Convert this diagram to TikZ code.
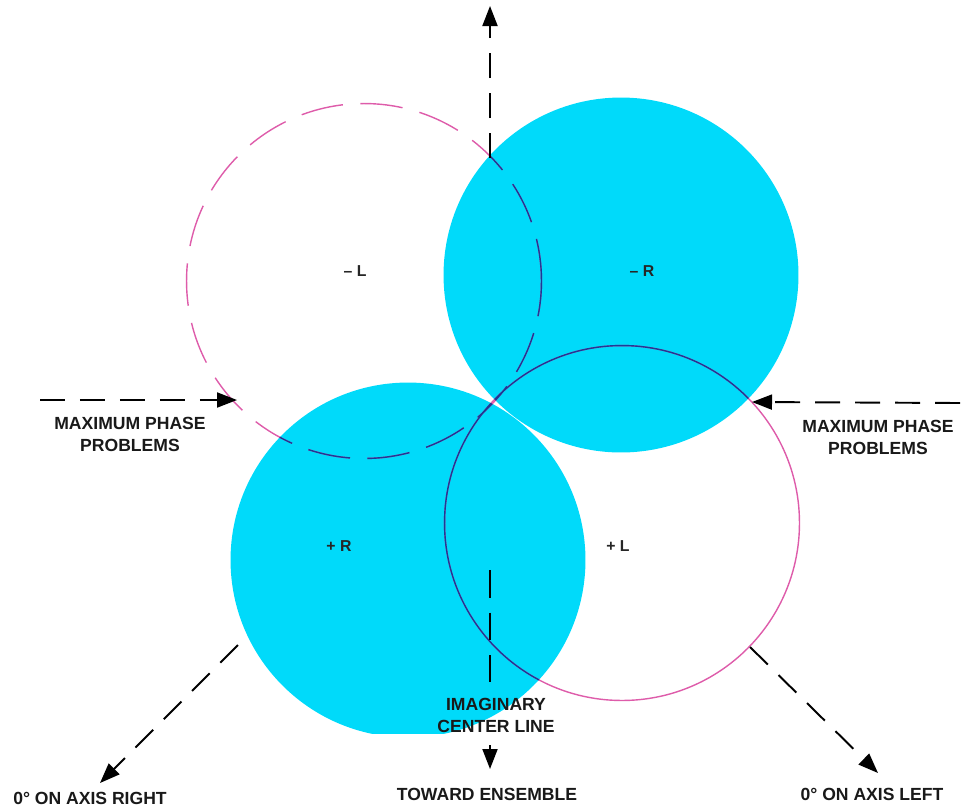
\documentclass[tikz,border=0pt]{standalone}
\usepackage{fontspec}
\setmainfont{Liberation Sans}
\usetikzlibrary{arrows.meta}

\definecolor{lobecyan}{RGB}{0,218,250}
\definecolor{lobepink}{RGB}{222,92,170}
\definecolor{lobenavy}{RGB}{28,58,150}

\begin{document}
\begin{tikzpicture}[
  x=0.02cm, y=-0.02cm,
  caption/.style={align=center, font=\fontsize{10}{12.5}\selectfont\bfseries, text=black!90},
  lobelabel/.style={font=\fontsize{9}{10}\selectfont\bfseries, text=black!85},
  axis/.style={draw, line width=1.1pt, dash pattern=on 0.5cm off 0.3cm, -{Triangle[length=0.4cm,width=0.3cm]}},
  centerline/.style={draw, line width=1.1pt, dash pattern=on 0.55cm off 0.3cm},
  >=Stealth
]
  \useasboundingbox (0,0) rectangle (962,809);

  % lobe centres
  \coordinate (cML) at (364,281);
  \coordinate (cMR) at (621,275);
  \coordinate (cPR) at (408,560);
  \coordinate (cPL) at (622,523);

  % filled lobes
  \begin{scope}
    \clip (0,0) rectangle (962,733);
    \fill[lobecyan] (cMR) circle (3.55cm);
    \fill[lobecyan] (cPR) circle (3.55cm);
  \end{scope}

  % outlined lobes
  \draw[lobepink, line width=0.8pt, dash pattern=on 0.85cm off 0.35cm] (cML) circle (3.55cm);
  \draw[lobepink, line width=0.8pt] (cPL) circle (3.55cm);
  \begin{scope}
    \clip (cMR) circle (3.55cm) (cPR) circle (3.55cm);
    \draw[lobenavy, line width=0.8pt, dash pattern=on 0.85cm off 0.35cm] (cML) circle (3.55cm);
    \draw[lobenavy, line width=0.8pt] (cPL) circle (3.55cm);
  \end{scope}

  \node[lobelabel] (ml) at (355,271) {-- L};
  \node[lobelabel] (mr) at (642,271) {-- R};
  \node[lobelabel] (pr) at (339,546) {+ R};
  \node[lobelabel] (pl) at (618,546) {+ L};

  % imaginary centre line
  \coordinate (ctop) at (490,158);
  \coordinate (ctip) at (490,6);
  \coordinate (cbot) at (490,570);
  \coordinate (cend) at (490,692);
  \draw[axis] (ctop) -- (ctip);
  \draw[centerline] (cbot) -- (cend);
  \node[caption] (imag) at (496,715) {IMAGINARY\\CENTER LINE};
  \coordinate (ens) at (490,745);
  \coordinate (enstip) at (490,769);
  \draw[line width=1.1pt, -{Triangle[length=0.4cm,width=0.3cm]}] (ens) -- (enstip);
  \node[caption] (toward) at (487,794) {TOWARD ENSEMBLE};

  % phase problem arrows
  \coordinate (lstart) at (40,400);
  \coordinate (ltip) at (237,400);
  \draw[axis] (lstart) -- (ltip);
  \node[caption] (lphase) at (130,434) {MAXIMUM PHASE\\PROBLEMS};

  \coordinate (rstart) at (960,403);
  \coordinate (rtip) at (752,402);
  \draw[axis] (rstart) -- (rtip);
  \node[caption] (rphase) at (878,437) {MAXIMUM PHASE\\PROBLEMS};

  % on axis arrows
  \coordinate (dlstart) at (238,645);
  \coordinate (dltip) at (100,783);
  \draw[axis] (dlstart) -- (dltip);
  \node[caption] (onright) at (90,798) {0° ON AXIS RIGHT};

  \coordinate (drstart) at (750,647);
  \coordinate (drtip) at (878,773);
  \draw[axis] (drstart) -- (drtip);
  \node[caption] (onleft) at (872,794) {0° ON AXIS LEFT};
\end{tikzpicture}
\end{document}
